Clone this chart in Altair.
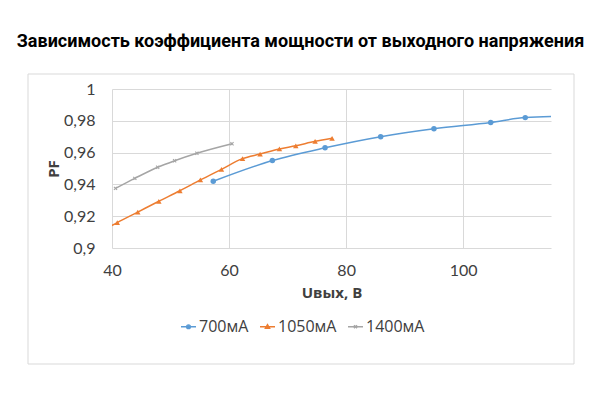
import altair as alt
import pandas as pd

series_names = ["700мА", "1050мА", "1400мА"]
colors = ["#5b9bd5", "#ed7d31", "#a5a5a5"]

x700 = [57.3, 67.4, 76.4, 85.9, 95.0, 104.7, 110.6, 119.5]
y700 = [0.942, 0.955, 0.963, 0.970, 0.975, 0.979, 0.982, 0.983]
x1050 = [37.4, 40.9, 44.4, 48.0, 51.6, 55.1, 58.7, 62.3, 65.3, 68.6, 71.4, 74.7, 77.6]
y1050 = [0.909, 0.916, 0.9226, 0.9294, 0.936, 0.9428, 0.9495, 0.9562, 0.9591,
         0.9623, 0.9643, 0.9671, 0.969]
x1400 = [40.6, 43.9, 47.8, 50.7, 54.5, 60.5]
y1400 = [0.9375, 0.9438, 0.9508, 0.9549, 0.9596, 0.9656]

x_ticks = [40, 60, 80, 100]
y_ticks = [0.9, 0.92, 0.94, 0.96, 0.98, 1.0]

title_text = "Зависимость коэффициента мощности от выходного напряжения"
x_title = "Uвых, В"
y_title = "PF"

rows = []
for name, xs, ys in zip(series_names, [x700, x1050, x1400], [y700, y1050, y1400]):
    for xv, yv in zip(xs, ys):
        rows.append({"x": xv, "y": yv, "series": name})
df = pd.DataFrame(rows)

ysc = alt.Scale(domain=[0.9, 1.0], nice=False, zero=False)
X = alt.X("x:Q", scale=alt.Scale(domain=[40, 115], nice=False, zero=False),
          axis=alt.Axis(values=x_ticks, title=x_title, grid=True, gridColor="#d9d9d9",
                        domain=False, ticks=False, labelFlush=False, labelFont="Lato",
                        labelFontSize=16, labelColor="#404040", labelPadding=14,
                        titleFont="Open Sans", titleFontSize=15, titleFontWeight="bold",
                        titleColor="#404040", titlePadding=7))
yaxis = alt.Axis(values=y_ticks, title=y_title, grid=True, gridColor="#d9d9d9",
                 domain=False, ticks=False, labelFlush=False, labelFont="Lato",
                 labelFontSize=16, labelColor="#404040", labelPadding=17,
                 labelExpr="replace(format(datum.value, '.2~f'), '.', ',')",
                 titleFont="Open Sans", titleFontSize=15, titleFontWeight="bold",
                 titleColor="#404040", titlePadding=2)
Y = alt.Y("y:Q", scale=ysc, axis=yaxis)

base = alt.Chart(df)

box = alt.Chart(pd.DataFrame({"a": [0]})).mark_rect(
    filled=False, color="#d9d9d9", strokeWidth=1, clip=False
).encode(x=alt.value(-84), x2=alt.value(462), y=alt.value(-15), y2=alt.value(275))

leg_paths = [
    "M-1,0H1M-0.25,0A0.25,0.25,0,1,1,0.25,0A0.25,0.25,0,1,1,-0.25,0Z",
    "M-1,0H1M0,-0.28L0.28,0.2L-0.28,0.2Z",
    "M-1,0H1M-0.2,-0.2L0.2,0.2M-0.2,0.2L0.2,-0.2",
]
leg = alt.Legend(title=None, orient="none", legendX=68, legendY=229, direction="horizontal",
                 symbolSize=225, symbolStrokeWidth=1.4,
                 labelFont="Open Sans", labelFontSize=16, labelColor="#404040",
                 columnPadding=8, labelOffset=2)

color_enc = alt.Color("series:N", scale=alt.Scale(domain=series_names, range=colors),
                      legend=leg)

lines = base.mark_line(interpolate="monotone", strokeWidth=1.5, clip=True).encode(
    x=X, y=Y, color=color_enc, order="x:Q")

circles = base.transform_filter(alt.datum.series == "700мА").mark_point(
    shape="circle", filled=True, size=30, opacity=1, clip=True).encode(
    x=X, y=Y, color=color_enc)
tris = base.transform_filter(alt.datum.series == "1050мА").mark_point(
    shape="triangle-up", filled=True, size=30, opacity=1, clip=True).encode(
    x=X, y=Y, color=color_enc)
xpath = "M-0.6,-0.6L0.6,0.6M-0.6,0.6L0.6,-0.6"
crosses = base.transform_filter(alt.datum.series == "1400мА").mark_point(
    shape=xpath, filled=False, size=28, strokeWidth=1.1, opacity=1, clip=True).encode(
    x=X, y=Y, color=color_enc)

# helper layer that only feeds the legend shapes; its points fall outside the clipped plot
legend_layer = base.transform_calculate(yh="datum.y + 1").mark_point(
    filled=True, clip=True, opacity=1).encode(
    x=X, y=alt.Y("yh:Q", scale=ysc, axis=yaxis), color=color_enc,
    shape=alt.Shape("series:N", scale=alt.Scale(domain=series_names, range=leg_paths),
                    legend=leg))

chart = alt.layer(box, lines, circles, tris, crosses, legend_layer).properties(
    width=439, height=159,
    title=alt.TitleParams(title_text, font="Roboto", fontSize=18, fontWeight="bold",
                          color="#000000", anchor="middle", dx=-31, offset=23),
    autosize="none",
    padding={"left": 104, "top": 81, "right": 41, "bottom": 140},
).configure_view(stroke=None)

chart.save("out.html", embed_options={"renderer": "svg", "actions": False})
